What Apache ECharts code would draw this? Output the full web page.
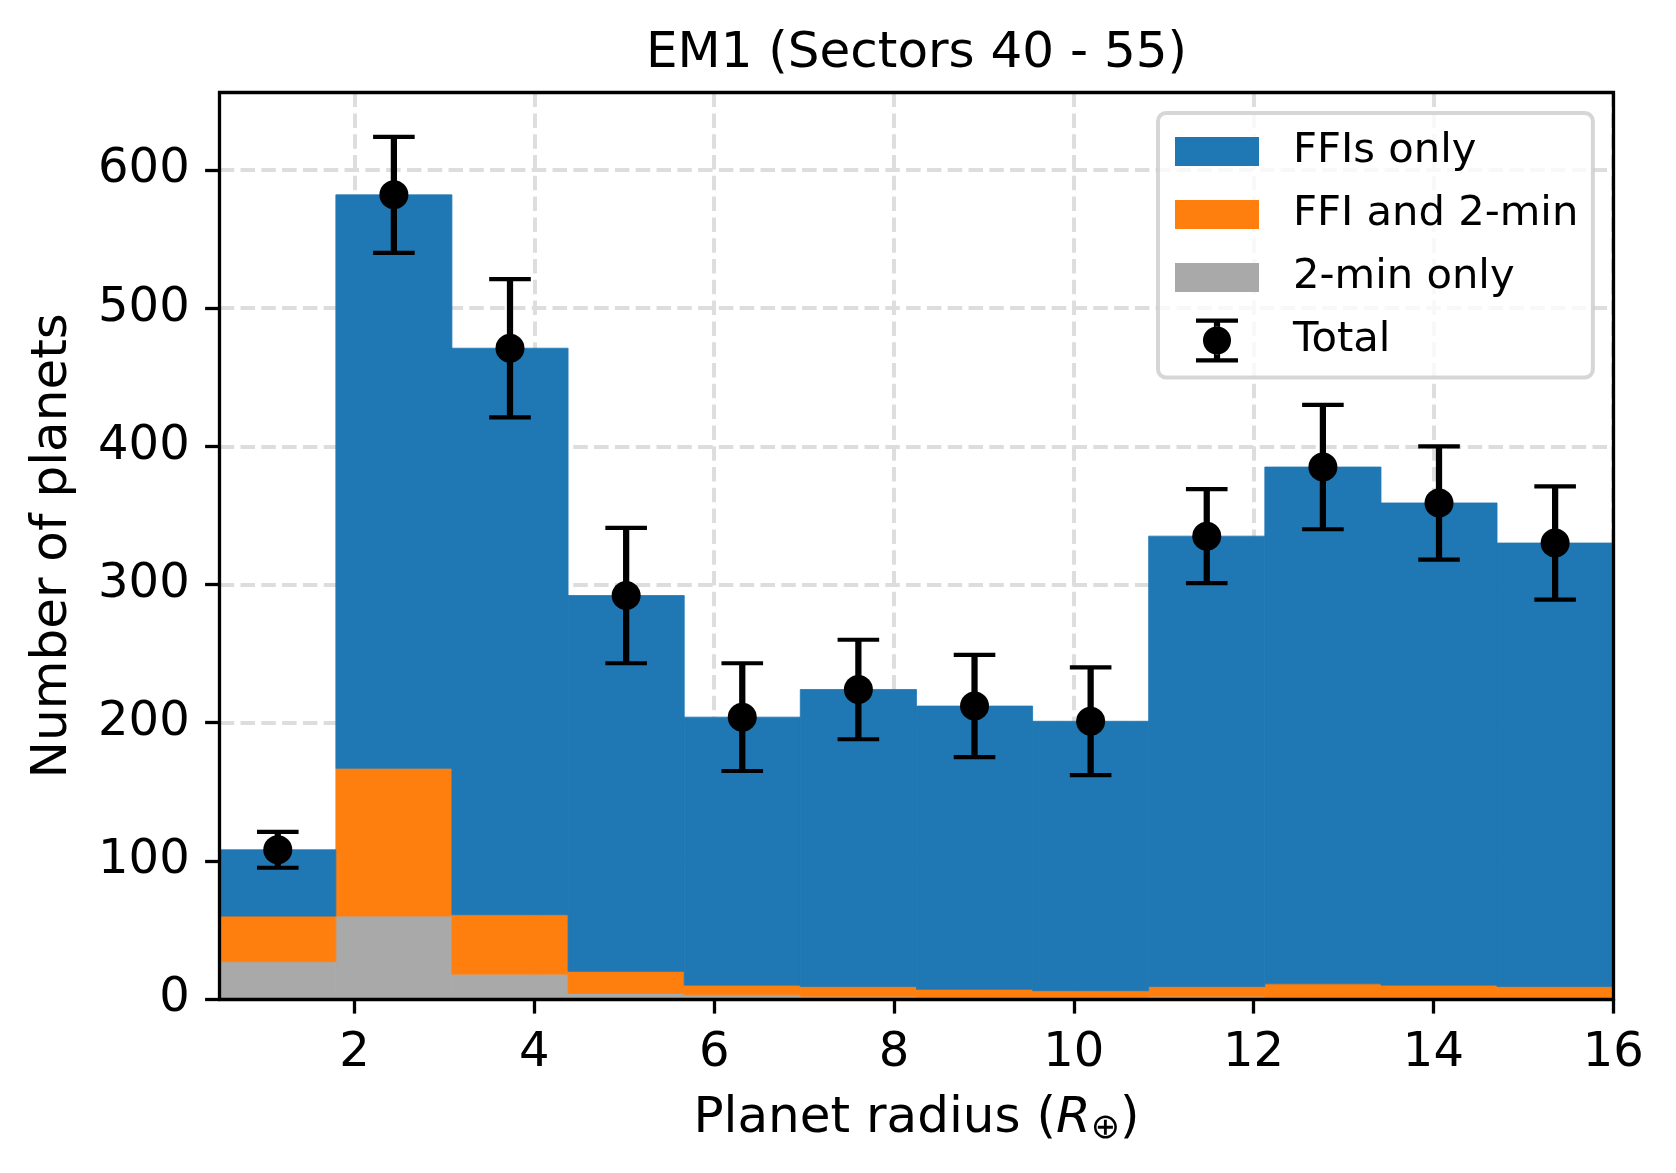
<!DOCTYPE html>
<html>
<head>
<meta charset="utf-8">
<script src="https://cdn.jsdelivr.net/npm/echarts@6/dist/echarts.min.js"></script>
<style>
html,body{margin:0;padding:0;background:#ffffff;}
#chart{width:1676px;height:1173px;}
</style>
</head>
<body>
<div id="chart"></div>
<script>
// ---- data ----
const binEdges   = [0.5, 1.792, 3.083, 4.375, 5.667, 6.958, 8.25, 9.542, 10.833, 12.125, 13.417, 14.708, 16];
const ffiOnly    = [48, 415, 410, 272, 194, 215, 205, 195, 326, 374, 349, 321];
const ffiAnd2min = [33, 107, 43, 16, 7, 7, 6, 5, 7, 10, 9, 8];
const twoMinOnly = [27, 60, 18, 4, 3, 2, 1, 1, 2, 1, 1, 1];
const totalErr   = [13, 42, 50, 49, 39, 36, 37, 39, 34, 45, 41, 41];
const xTicks = [2, 4, 6, 8, 10, 12, 14, 16];
const yTicks = [0, 100, 200, 300, 400, 500, 600];
const xRange = [0.5, 16];
const yRange = [0, 656];

const FONT = 'DejaVu Sans';
const COLORS = { blue: '#1f77b4', orange: '#ff7f0e', gray: '#a9a9a9' };

// stacked rectangles [x0, x1, yBottom, yTop]
const grayRects = [], orangeRects = [], blueRects = [], totals = [];
for (let i = 0; i < ffiOnly.length; i++) {
  const x0 = binEdges[i], x1 = binEdges[i + 1];
  const g = twoMinOnly[i];
  const o = g + ffiAnd2min[i];
  const t = o + ffiOnly[i];
  grayRects.push([x0, x1, 0, g]);
  orangeRects.push([x0, x1, g, o]);
  blueRects.push([x0, x1, o, t]);
  totals.push([(x0 + x1) / 2, t, totalErr[i]]);
}

function rectRenderer(color) {
  return function (params, api) {
    const p0 = api.coord([api.value(0), api.value(3)]);
    const p1 = api.coord([api.value(1), api.value(2)]);
    return {
      type: 'rect',
      shape: { x: p0[0], y: p0[1], width: p1[0] - p0[0], height: p1[1] - p0[1] },
      style: { fill: color, stroke: color, lineWidth: 0.8 }
    };
  };
}

function errRenderer(params, api) {
  const x = api.value(0), y = api.value(1), e = api.value(2);
  const c = api.coord([x, y]);
  const top = api.coord([x, y + e]);
  const bot = api.coord([x, y - e]);
  const half = 20.8;
  return {
    type: 'group',
    children: [
      { type: 'line', shape: { x1: c[0], y1: top[1], x2: c[0], y2: bot[1] }, style: { stroke: '#000', lineWidth: 6.25 } },
      { type: 'line', shape: { x1: c[0] - half, y1: top[1], x2: c[0] + half, y2: top[1] }, style: { stroke: '#000', lineWidth: 4.17 } },
      { type: 'line', shape: { x1: c[0] - half, y1: bot[1], x2: c[0] + half, y2: bot[1] }, style: { stroke: '#000', lineWidth: 4.17 } },
      { type: 'circle', shape: { cx: c[0], cy: c[1], r: 14.5 }, style: { fill: '#000' } }
    ]
  };
}

const gridLine = { color: '#dddddd', width: 3.9, type: [14.5, 6.3] };
const spine = { color: '#000', width: 3.3, cap: 'square' };
const tickLabel = { fontFamily: FONT, fontSize: 48, color: '#000' };

const rectIcon = 'path://M0,0M113,44M0,7.5L84,7.5L84,36.5L0,36.5Z';
const totalIcon = 'path://M0,0M113,44M21,0L63,0L63,4.2L21,4.2Z' +
  'M21,39.8L63,39.8L63,44L21,44Z' +
  'M38.9,4.2L45.1,4.2L45.1,8.2L38.9,8.2Z' +
  'M38.9,35.8L45.1,35.8L45.1,39.8L38.9,39.8Z' +
  'M28,22A14,14,0,1,0,56,22A14,14,0,1,0,28,22Z';

const option = {
  backgroundColor: '#ffffff',
  animation: false,
  grid: { left: 219.7, top: 92.6, width: 1393.5, height: 906.4, outerBoundsMode: 'none', containLabel: false },
  xAxis: [
    { type: 'value', min: xRange[0], max: xRange[1], position: 'bottom', z: 0,
      axisLine: { show: false, onZero: false }, axisTick: { show: false, customValues: xTicks },
      axisLabel: { show: false, customValues: xTicks },
      splitLine: { show: true, lineStyle: gridLine } },
    { type: 'value', min: xRange[0], max: xRange[1], position: 'bottom', z: 6,
      axisLine: { show: true, onZero: false, lineStyle: spine },
      axisTick: { show: true, inside: false, length: 14.6, customValues: xTicks, lineStyle: { color: '#000', width: 3.3 } },
      axisLabel: Object.assign({ show: true, customValues: xTicks, margin: 30.7 }, tickLabel),
      splitLine: { show: false } },
    { type: 'value', min: xRange[0], max: xRange[1], position: 'top', z: 6,
      axisLine: { show: true, onZero: false, lineStyle: spine },
      axisTick: { show: false }, axisLabel: { show: false }, splitLine: { show: false } }
  ],
  yAxis: [
    { type: 'value', min: yRange[0], max: yRange[1], position: 'left', z: 0,
      axisLine: { show: false, onZero: false }, axisTick: { show: false, customValues: yTicks },
      axisLabel: { show: false, customValues: yTicks },
      splitLine: { show: true, lineStyle: gridLine } },
    { type: 'value', min: yRange[0], max: yRange[1], position: 'left', z: 6,
      axisLine: { show: true, onZero: false, lineStyle: spine },
      axisTick: { show: true, inside: false, length: 14.6, customValues: yTicks, lineStyle: { color: '#000', width: 3.3 } },
      axisLabel: Object.assign({ show: true, customValues: yTicks, margin: 30, padding: [10, 0, 0, 0] }, tickLabel),
      splitLine: { show: false } },
    { type: 'value', min: yRange[0], max: yRange[1], position: 'right', z: 6,
      axisLine: { show: true, onZero: false, lineStyle: spine },
      axisTick: { show: false }, axisLabel: { show: false }, splitLine: { show: false } }
  ],
  legend: {
    orient: 'vertical', left: 1158, top: 113,
    padding: [16.5, 14.5, 15, 17],
    itemWidth: 113, itemHeight: 44, itemGap: 19,
    backgroundColor: 'rgba(255,255,255,0.8)',
    borderColor: 'rgba(204,204,204,0.8)', borderWidth: 4, borderRadius: 8,
    selectedMode: false,
    textStyle: { fontFamily: FONT, fontSize: 41.7, color: '#000' },
    data: [
      { name: 'FFIs only', icon: rectIcon },
      { name: 'FFI and 2-min', icon: rectIcon },
      { name: '2-min only', icon: rectIcon },
      { name: 'Total', icon: totalIcon }
    ]
  },
  graphic: [
    { type: 'text', x: 916.5, y: 53.7, z: 10,
      style: { text: 'EM1 (Sectors 40 - 55)', fontFamily: FONT, fontSize: 50, fill: '#000', align: 'center', verticalAlign: 'middle' } },
    { type: 'text', x: 53.4, y: 545.8, rotation: Math.PI / 2, z: 10,
      style: { text: 'Number of planets', fontFamily: FONT, fontSize: 50, fill: '#000', align: 'center', verticalAlign: 'middle' } },
    { type: 'text', x: 916.5, y: 1118.7, z: 10,
      style: {
        text: '{a|Planet radius (}{r|R}{s|⊕}{a|)}',
        align: 'center', verticalAlign: 'middle',
        rich: {
          a: { fontFamily: FONT, fontSize: 50, fill: '#000', color: '#000' },
          r: { fontFamily: FONT, fontSize: 50, fontStyle: 'italic', fill: '#000', color: '#000' },
          s: { fontFamily: FONT, fontSize: 35, fill: '#000', color: '#000', padding: [21, 0, 0, 0] }
        }
      } }
  ],
  series: [
    { name: '2-min only', type: 'custom', xAxisIndex: 0, yAxisIndex: 0, z: 2,
      itemStyle: { color: COLORS.gray }, renderItem: rectRenderer(COLORS.gray),
      encode: { x: [0, 1], y: [2, 3] }, data: grayRects },
    { name: 'FFI and 2-min', type: 'custom', xAxisIndex: 0, yAxisIndex: 0, z: 2,
      itemStyle: { color: COLORS.orange }, renderItem: rectRenderer(COLORS.orange),
      encode: { x: [0, 1], y: [2, 3] }, data: orangeRects },
    { name: 'FFIs only', type: 'custom', xAxisIndex: 0, yAxisIndex: 0, z: 2,
      itemStyle: { color: COLORS.blue }, renderItem: rectRenderer(COLORS.blue),
      encode: { x: [0, 1], y: [2, 3] }, data: blueRects },
    { name: 'Total', type: 'custom', xAxisIndex: 0, yAxisIndex: 0, z: 3,
      itemStyle: { color: '#000' }, renderItem: errRenderer,
      encode: { x: 0, y: 1 }, data: totals }
  ]
};

const chart = echarts.init(document.getElementById('chart'), null, { renderer: 'canvas' });
chart.setOption(option);
</script>
</body>
</html>
